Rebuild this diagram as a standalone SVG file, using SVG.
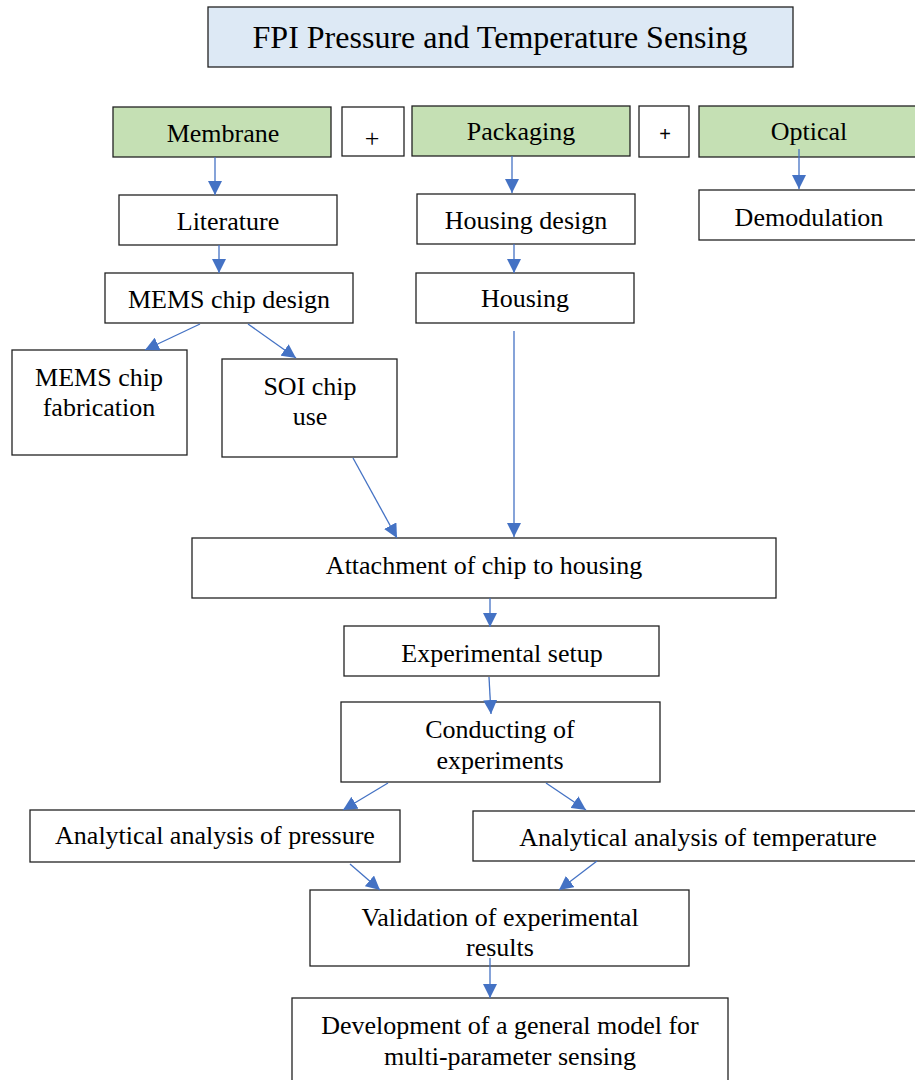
<svg xmlns="http://www.w3.org/2000/svg" width="915" height="1080" viewBox="0 0 915 1080" font-family="Liberation Serif, Times New Roman, serif">
<style>
.box{fill:#fff;stroke:#222;stroke-width:1.3}
.g{fill:#c5e0b4}
.t{fill:#dde9f5}
text{font-family:'Liberation Serif','Times New Roman',serif;font-size:26px;fill:#000;text-anchor:middle}
text.title{font-size:32px}
text.plus{font-family:'Liberation Sans',Arial,sans-serif;font-size:20px}
.c{stroke:#4472c4;stroke-width:1.3;fill:none;marker-end:url(#ah)}
</style>
<defs>
<marker id="ah" markerUnits="userSpaceOnUse" markerWidth="16" markerHeight="14" refX="14" refY="7" orient="auto">
<path d="M0,0 L14,7 L0,14 Z" fill="#4472c4"/>
</marker>
</defs>
<rect width="915" height="1080" fill="#fff"/>
<g id="title"><rect class="box t" x="208" y="7" width="585" height="60"/><text class="title" x="500" y="48">FPI Pressure and Temperature Sensing</text></g>
<g id="membrane"><rect class="box g" x="113" y="107" width="218" height="50"/><text x="223" y="142">Membrane</text></g>
<g id="plus1"><rect class="box" x="342" y="107" width="62" height="49"/><text x="372" y="147">+</text></g>
<g id="packaging"><rect class="box g" x="412" y="106" width="218" height="50"/><text x="521" y="140">Packaging</text></g>
<g id="plus2"><rect class="box" x="639" y="106" width="50" height="51"/><text class="plus" x="665" y="141">+</text></g>
<g id="optical"><rect class="box g" x="699" y="106" width="218" height="51"/><text x="809" y="140">Optical</text></g>
<g id="literature"><rect class="box" x="119" y="195" width="218" height="50"/><text x="228" y="230">Literature</text></g>
<g id="housing-design"><rect class="box" x="417" y="194" width="218" height="50"/><text x="526" y="229">Housing design</text></g>
<g id="demodulation"><rect class="box" x="699" y="190" width="218" height="50"/><text x="809" y="226">Demodulation</text></g>
<g id="mems-design"><rect class="box" x="105" y="273" width="248" height="50"/><text x="229" y="308">MEMS chip design</text></g>
<g id="housing"><rect class="box" x="416" y="273" width="218" height="50"/><text x="525" y="307">Housing</text></g>
<g id="mems-fab"><rect class="box" x="12" y="350" width="175" height="105"/><text x="99" y="386">MEMS chip</text><text x="99" y="416">fabrication</text></g>
<g id="soi"><rect class="box" x="222" y="359" width="175" height="98"/><text x="310" y="395">SOI chip</text><text x="310" y="425">use</text></g>
<g id="attachment"><rect class="box" x="192" y="538" width="584" height="60"/><text x="484" y="574">Attachment of chip to housing</text></g>
<g id="setup"><rect class="box" x="344" y="626" width="315" height="50"/><text x="502" y="662">Experimental setup</text></g>
<g id="conducting"><rect class="box" x="341" y="702" width="319" height="80"/><text x="500" y="738">Conducting of</text><text x="500" y="769">experiments</text></g>
<g id="pressure"><rect class="box" x="30" y="810" width="370" height="52"/><text x="215" y="844">Analytical analysis of pressure</text></g>
<g id="temperature"><rect class="box" x="473" y="811" width="444" height="50"/><text x="698" y="846">Analytical analysis of temperature</text></g>
<g id="validation"><rect class="box" x="310" y="890" width="379" height="76"/><text x="500" y="926">Validation of experimental</text><text x="500" y="956">results</text></g>
<g id="development"><rect class="box" x="292" y="998" width="436" height="90"/><text x="510" y="1034">Development of a general model for</text><text x="510" y="1065">multi-parameter sensing</text></g>
<g id="connectors">
<line class="c" x1="215" y1="157" x2="215" y2="195"/>
<line class="c" x1="512" y1="156" x2="512" y2="193"/>
<line class="c" x1="799" y1="149" x2="799" y2="189"/>
<line class="c" x1="219" y1="245" x2="219" y2="273"/>
<line class="c" x1="514" y1="244" x2="514" y2="273"/>
<line class="c" x1="200" y1="324" x2="145" y2="350"/>
<line class="c" x1="248" y1="324" x2="296" y2="358"/>
<line class="c" x1="353" y1="458" x2="397" y2="538"/>
<line class="c" x1="514" y1="331" x2="514" y2="537"/>
<line class="c" x1="490" y1="598" x2="490" y2="627"/>
<line class="c" x1="489" y1="677" x2="491" y2="714"/>
<line class="c" x1="388" y1="783" x2="343" y2="810"/>
<line class="c" x1="546" y1="783" x2="586" y2="810"/>
<line class="c" x1="350" y1="864" x2="380" y2="890"/>
<line class="c" x1="597" y1="861" x2="559" y2="890"/>
<line class="c" x1="490" y1="958" x2="490" y2="998"/>
</g>
</svg>
